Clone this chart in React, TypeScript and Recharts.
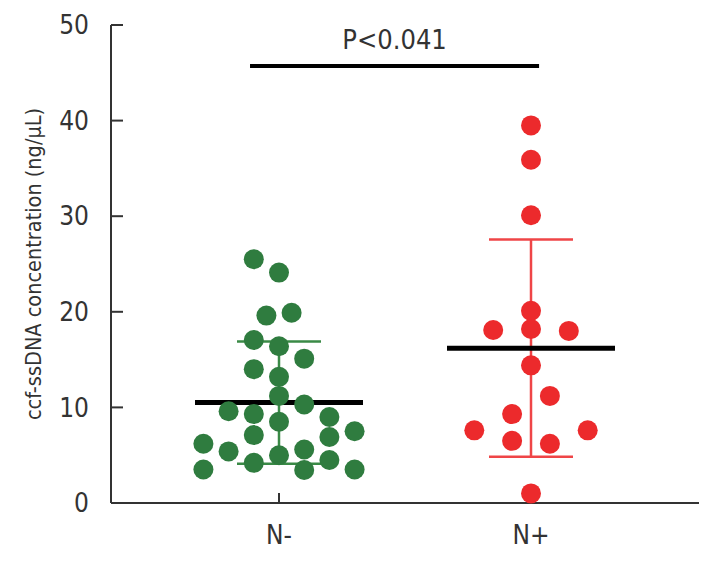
import {
  ComposedChart,
  Scatter,
  XAxis,
  YAxis,
  ErrorBar,
  ReferenceLine,
} from "recharts";

// groups on the x axis
const groups = ["N-", "N+"];

// N- (green) values and their swarm offsets
const negValues = [
  25.5, 24.1, 19.6, 19.9, 17.05, 16.4, 15.1, 14.0, 13.2, 11.2, 10.3, 9.6, 9.3,
  9.0, 8.5, 7.5, 7.1, 6.9, 6.2, 5.4, 5.6, 5.0, 4.5, 4.2, 3.5, 3.45, 3.5,
];
const negOffsets = [
  -0.1, 0, -0.05, 0.05, -0.1, 0, 0.1, -0.1, 0, 0, 0.1, -0.2, -0.1, 0.2, 0, 0.3,
  -0.1, 0.2, -0.3, -0.2, 0.1, 0, 0.2, -0.1, -0.3, 0.1, 0.3,
];

// N+ (red) values and their swarm offsets
const posValues = [
  39.5, 35.9, 30.1, 20.1, 18.1, 18.2, 18.0, 14.4, 11.2, 9.3, 7.6, 7.6, 6.5, 6.2,
  1.0,
];
const posOffsets = [
  0, 0, 0, 0, -0.15, 0, 0.15, 0, 0.075, -0.075, -0.225, 0.225, -0.075, 0.075, 0,
];

// mean and SD per group
const means = [10.5, 16.2];
const sds = [6.4, 11.35];

// significance bracket
const sigFrom = 0.885;
const sigTo = 2.032;
const sigY = 45.7;
const sigText = "P<0.041";

const yTicks = [0, 10, 20, 30, 40, 50];

const GREEN = "#2f7c3f";
const GREEN_BAR = "#3a8a46";
const RED = "#ec2a2c";
const RED_BAR = "#ef4547";
const INK = "#333333";
const FONT = "'Liberation Sans Narrow', 'DejaVu Sans Condensed', 'Noto Sans', sans-serif";

const negData = negValues.map((v, i) => ({ x: 1 + negOffsets[i], y: v }));
const posData = posValues.map((v, i) => ({ x: 2 + posOffsets[i], y: v }));
const negMean = [{ x: 1, y: means[0], sd: sds[0] }];
const posMean = [{ x: 2, y: means[1], sd: sds[1] }];

const Dot = (color: string) => (p: any) =>
  <circle cx={p.cx} cy={p.cy} r={10} fill={color} />;

const MeanLine = (p: any) => (
  <line x1={p.cx - 84} x2={p.cx + 84} y1={p.cy} y2={p.cy} stroke="#000" strokeWidth={5} />
);

const App = () => {
  return (
    <div style={{ fontFamily: FONT }}>
      <ComposedChart
        width={699}
        height={546}
        margin={{ top: 17, right: 8, bottom: 11, left: 43 }}
      >
        <XAxis
          type="number"
          dataKey="x"
          domain={[1 / 3, 8 / 3]}
          ticks={[1, 2]}
          allowDataOverflow
          tickFormatter={(v: number) => groups[v - 1]}
          height={40}
          tickSize={-10}
          tickMargin={33}
          axisLine={{ stroke: INK, strokeWidth: 2 }}
          tickLine={{ stroke: INK, strokeWidth: 2 }}
          tick={{ fill: INK, fontSize: 26, fontFamily: FONT }}
        />
        <YAxis
          type="number"
          dataKey="y"
          domain={[0, 50]}
          ticks={yTicks}
          width={60}
          tickSize={-12}
          tickMargin={34}
          axisLine={{ stroke: INK, strokeWidth: 2 }}
          tickLine={{ stroke: INK, strokeWidth: 2 }}
          tick={{ fill: INK, fontSize: 26, fontFamily: FONT }}
          label={{
            value: "ccf-ssDNA concentration (ng/μL)",
            angle: -90,
            position: "left",
            offset: 18,
            fill: INK,
            fontSize: 21.5,
            fontFamily: FONT,
            style: { textAnchor: "middle" },
          }}
        />
        <ReferenceLine
          segment={[
            { x: sigFrom, y: sigY },
            { x: sigTo, y: sigY },
          ]}
          stroke="#000"
          strokeWidth={4}
          label={{
            value: sigText,
            position: "top",
            offset: 17,
            fill: INK,
            fontSize: 27,
            fontFamily: FONT,
          }}
        />
        <Scatter data={negMean} shape={MeanLine} isAnimationActive={false}>
          <ErrorBar dataKey="sd" direction="y" width={42} stroke={GREEN_BAR} strokeWidth={2.5} />
        </Scatter>
        <Scatter data={posMean} shape={MeanLine} isAnimationActive={false}>
          <ErrorBar dataKey="sd" direction="y" width={42} stroke={RED_BAR} strokeWidth={2.5} />
        </Scatter>
        <Scatter data={negData} shape={Dot(GREEN)} isAnimationActive={false} />
        <Scatter data={posData} shape={Dot(RED)} isAnimationActive={false} />
      </ComposedChart>
    </div>
  );
};

export default App;
